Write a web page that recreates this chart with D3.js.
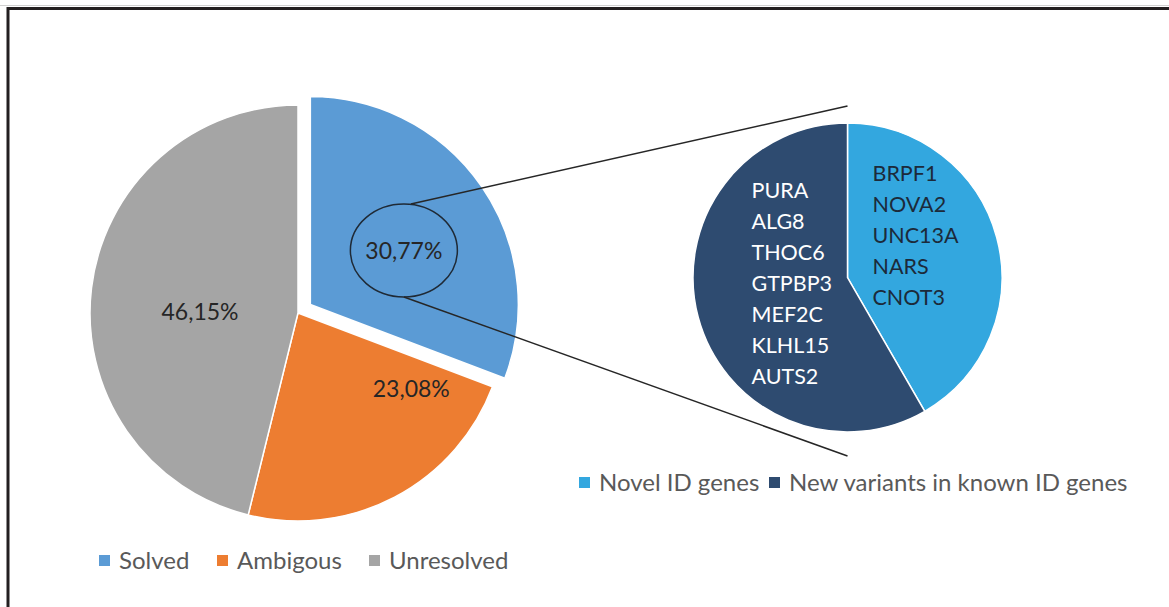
<!DOCTYPE html>
<html>
<head>
<meta charset="utf-8">
<script src="https://cdn.jsdelivr.net/npm/d3@7"></script>
<style>
  body { margin: 0; background: #fff; }
  svg { display: block; font-family: Lato, "Open Sans", sans-serif; }
  .legend text { fill: #595959; }
</style>
</head>
<body>
<div id="chart"></div>
<script>
// main pie
var mainCategories = ["Solved", "Ambigous", "Unresolved"];
var mainValues = [30.77, 23.08, 46.15];
var mainLabels = ["30,77%", "23,08%", "46,15%"];

// pie of the solved part
var subCategories = ["Novel ID genes", "New variants in known ID genes"];
var novelGenes = ["BRPF1", "NOVA2", "UNC13A", "NARS", "CNOT3"];
var knownGenes = ["PURA", "ALG8", "THOC6", "GTPBP3", "MEF2C", "KLHL15", "AUTS2"];
var subValues = [novelGenes.length, knownGenes.length];

var width = 1169, height = 607;

var mainColor = d3.scaleOrdinal().domain(mainCategories).range(["#5b9bd5", "#ed7d31", "#a5a5a5"]);
var subColor = d3.scaleOrdinal().domain(subCategories).range(["#33a7df", "#2e4b70"]);

var svg = d3.select("#chart").append("svg")
    .attr("width", width)
    .attr("height", height);

// frame
svg.append("line").attr("x1", 0).attr("x2", width).attr("y1", 5.5).attr("y2", 5.5)
    .attr("stroke", "#d0d0d0").attr("stroke-width", 1);
svg.append("path")
    .attr("d", "M8," + height + "V8.5H" + width)
    .attr("fill", "none")
    .attr("stroke", "#231f20")
    .attr("stroke-width", 3);

// ---- main pie
var cx = 298, cy = 313, r = 208, explode = 15;

var pie = d3.pie().sort(null).value(function(d) { return d; });
var arc = d3.arc().innerRadius(0).outerRadius(r);
var mainArcs = pie(mainValues);

var gMain = svg.append("g").attr("transform", "translate(" + cx + "," + cy + ")");

function offset(d, dist) {
    var a = (d.startAngle + d.endAngle) / 2;
    return [Math.sin(a) * dist, -Math.cos(a) * dist];
}

gMain.selectAll(".slice")
    .data(mainArcs)
    .enter().append("path")
    .attr("class", "slice")
    .attr("transform", function(d, i) {
        var o = i === 0 ? offset(d, explode) : [0, 0];
        return "translate(" + o[0] + "," + o[1] + ")";
    })
    .attr("d", arc)
    .attr("fill", function(d, i) { return mainColor(mainCategories[i]); })
    .attr("stroke", "#fff")
    .attr("stroke-width", 1.5);

// label placement (angle in degrees from 12 o'clock, distance from centre)
var labelPlace = [{a: 60, d: 108}, {a: 123.6, d: 136}, {a: 270.6, d: 98}];
var labelXY = mainArcs.map(function(d, i) {
    var o = i === 0 ? offset(d, explode) : [0, 0];
    var a = labelPlace[i].a * Math.PI / 180;
    return [o[0] + Math.sin(a) * labelPlace[i].d, o[1] - Math.cos(a) * labelPlace[i].d];
});

gMain.selectAll(".plabel")
    .data(mainLabels)
    .enter().append("text")
    .attr("class", "plabel")
    .attr("x", function(d, i) { return labelXY[i][0]; })
    .attr("y", function(d, i) { return labelXY[i][1]; })
    .attr("dy", "0.36em")
    .attr("text-anchor", "middle")
    .style("font-size", "23px")
    .style("fill", "#262626")
    .text(function(d) { return d; });

// ---- second pie
var cx2 = 847.5, cy2 = 277.5, r2 = 154.5;
var arc2 = d3.arc().innerRadius(0).outerRadius(r2);
var subArcs = pie(subValues);

// ellipse and connector lines
var ex = cx + labelXY[0][0], ey = cy + labelXY[0][1], erx = 53.5, ery = 46.5;
svg.append("ellipse")
    .attr("cx", ex).attr("cy", ey).attr("rx", erx).attr("ry", ery)
    .attr("fill", "none").attr("stroke", "#1f2a36").attr("stroke-width", 1.5);

svg.append("line")
    .attr("x1", ex + 7).attr("y1", ey - ery)
    .attr("x2", cx2).attr("y2", cy2 - r2 - 17)
    .attr("stroke", "#262626").attr("stroke-width", 1.5);
svg.append("line")
    .attr("x1", ex).attr("y1", ey + ery)
    .attr("x2", cx2).attr("y2", cy2 + r2 + 24)
    .attr("stroke", "#262626").attr("stroke-width", 1.5);

var gSub = svg.append("g").attr("transform", "translate(" + cx2 + "," + cy2 + ")");

gSub.selectAll(".slice2")
    .data(subArcs)
    .enter().append("path")
    .attr("class", "slice2")
    .attr("d", arc2)
    .attr("fill", function(d, i) { return subColor(subCategories[i]); })
    .attr("stroke", "#fff")
    .attr("stroke-width", 1.5);

var lineH = 31;
gSub.append("g").selectAll("text")
    .data(novelGenes)
    .enter().append("text")
    .attr("x", 25)
    .attr("y", function(d, i) { return -104 + i * lineH; })
    .attr("dy", "0.36em")
    .style("font-size", "21.5px")
    .style("fill", "#1c2a3a")
    .text(function(d) { return d; });

gSub.append("g").selectAll("text")
    .data(knownGenes)
    .enter().append("text")
    .attr("x", -96)
    .attr("y", function(d, i) { return -87 + i * lineH; })
    .attr("dy", "0.36em")
    .style("font-size", "21.5px")
    .style("fill", "#fff")
    .text(function(d) { return d; });

// ---- legends
function legend(cats, color, xs, y) {
    var g = svg.append("g").attr("class", "legend")
        .selectAll("g")
        .data(cats)
        .enter().append("g")
        .attr("transform", function(d, i) { return "translate(" + xs[i] + "," + y + ")"; });
    g.append("rect")
        .attr("x", 0).attr("y", -6)
        .attr("width", 11).attr("height", 11)
        .attr("fill", function(d) { return color(d); });
    g.append("text")
        .attr("x", 20)
        .attr("dy", "0.35em")
        .style("font-size", "24px")
        .text(function(d) { return d; });
}

legend(mainCategories, mainColor, [99, 217, 369], 561);
legend(subCategories, subColor, [579, 769], 483);
</script>
</body>
</html>
